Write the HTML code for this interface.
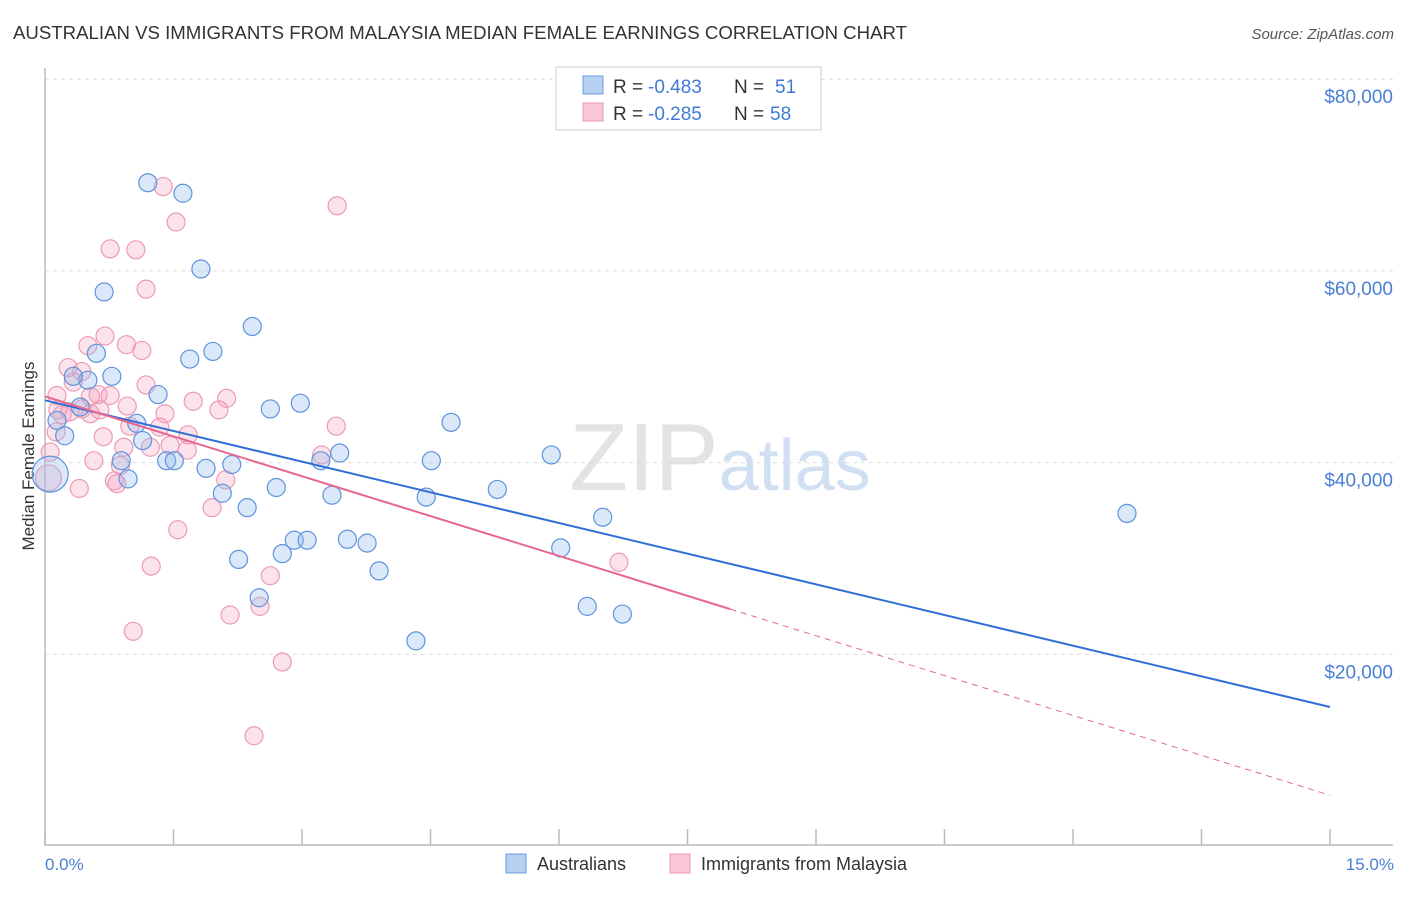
<!DOCTYPE html>
<html><head><meta charset="utf-8"><style>
body{margin:0;background:#fff;font-family:"Liberation Sans",sans-serif}
svg text{font-family:"Liberation Sans",sans-serif}
</style></head><body>
<svg id="chart" width="1406" height="892" viewBox="0 0 1406 892" xmlns="http://www.w3.org/2000/svg">
<text x="13" y="39" font-size="18" fill="#333" textLength="894" lengthAdjust="spacingAndGlyphs">AUSTRALIAN VS IMMIGRANTS FROM MALAYSIA MEDIAN FEMALE EARNINGS CORRELATION CHART</text>
<text x="1394" y="39" font-size="15" fill="#555" text-anchor="end" font-style="italic">Source: ZipAtlas.com</text>
<text x="720" y="490" font-size="96" fill="#ddd" text-anchor="middle" font-family="Liberation Serif" opacity="0.8">ZIP<tspan fill="#c5d8f0" font-family="Liberation Sans" font-size="72">atlas</tspan></text>
<g id="grid"></g>
<line x1="45" y1="68" x2="45" y2="846" stroke="#bbb" stroke-width="1.5"/>
<line x1="45" y1="845" x2="1393" y2="845" stroke="#bbb" stroke-width="1.5"/>
<text transform="translate(34,456) rotate(-90)" font-size="17" fill="#333" text-anchor="middle">Median Female Earnings</text>
<text x="45" y="870" font-size="17" fill="#4a7fd4">0.0%</text>
<text x="1394" y="870" font-size="17" fill="#4a7fd4" text-anchor="end">15.0%</text>
<g id="points"></g>
<g id="lines"></g>
<g>
<rect x="556" y="67" width="265" height="63" fill="#fff" stroke="#ccc"/>
<rect x="583" y="76" width="20" height="18" fill="#b8d1f3" stroke="#6a9be0"/>
<rect x="583" y="103" width="20" height="18" fill="#f9c6d6" stroke="#ec9ab5"/>
<text x="613" y="93" font-size="19" fill="#333">R =</text>
<text x="648" y="93" font-size="19" fill="#3f7ad6">-0.483</text>
<text x="734" y="93" font-size="19" fill="#333">N =</text>
<text x="775" y="93" font-size="19" fill="#3f7ad6">51</text>
<text x="613" y="120" font-size="19" fill="#333">R =</text>
<text x="648" y="120" font-size="19" fill="#3f7ad6">-0.285</text>
<text x="734" y="120" font-size="19" fill="#333">N =</text>
<text x="770" y="120" font-size="19" fill="#3f7ad6">58</text>
</g>
<g>
<rect x="506" y="854" width="20" height="19" fill="#b8d1f3" stroke="#6a9be0"/>
<text x="537" y="870" font-size="18" fill="#333">Australians</text>
<rect x="670" y="854" width="20" height="19" fill="#f9c6d6" stroke="#ec9ab5"/>
<text x="701" y="870" font-size="18" fill="#333">Immigrants from Malaysia</text>
</g>
</svg>
<script>
const yTicks=[20000,40000,60000,80000];
const yTickLabels=["$20,000","$40,000","$60,000","$80,000"];
const xTicks=[0,1.5,3,4.5,6,7.5,9,10.5,12,13.5,15];
const ausX=[1.20,1.61,1.82,0.69,2.42,0.60,1.96,1.69,0.50,0.78,0.33,1.32,0.41,0.14,2.63,2.98,4.74,1.07,0.23,1.14,1.42,1.51,0.89,1.88,2.18,3.44,3.22,4.51,5.91,0.97,2.07,2.70,3.35,4.45,5.28,2.36,6.51,12.63,2.91,3.06,3.53,3.76,2.26,2.77,6.02,3.90,2.50,6.33,6.74,4.33,0.06];
const ausY=[69.2,68.1,60.2,57.8,54.2,51.4,51.6,50.8,48.6,49.0,49.0,47.1,45.8,44.4,45.6,46.2,44.2,44.1,42.8,42.3,40.2,40.2,40.2,39.4,39.8,41.0,40.2,40.2,40.8,38.3,36.8,37.4,36.6,36.4,37.2,35.3,34.3,34.7,31.9,31.9,32.0,31.6,29.9,30.5,31.1,28.7,25.9,25.0,24.2,21.4,38.8];
const ausR=[9,9,9,9,9,9,9,9,9,9,9,9,9,9,9,9,9,9,9,9,9,9,9,9,9,9,9,9,9,9,9,9,9,9,9,9,9,9,9,9,9,9,9,9,9,9,9,9,9,9,18];
const myX=[1.38,3.41,1.53,0.76,1.06,1.18,0.70,0.95,1.13,0.50,0.27,0.43,0.33,1.18,1.73,2.12,2.03,1.40,0.62,0.96,0.43,0.53,0.15,0.20,0.29,0.13,1.34,1.67,0.68,3.40,3.23,0.57,0.88,1.66,1.23,2.11,0.81,0.84,0.40,0.06,0.04,1.95,1.55,1.24,2.63,6.70,2.16,2.51,1.03,2.77,2.44,0.99,0.64,0.76,1.46,0.92,0.53,0.14];
const myY=[68.8,66.8,65.1,62.3,62.2,58.1,53.2,52.3,51.7,52.2,49.9,49.5,48.4,48.1,46.4,46.7,45.5,45.1,47.1,45.9,45.6,45.1,45.5,45.0,45.3,43.2,43.7,42.9,42.7,43.8,40.8,40.2,39.7,41.3,41.6,38.2,38.1,37.8,37.3,41.1,38.4,35.3,33.0,29.2,28.2,29.6,24.1,25.0,22.4,19.2,11.5,43.8,45.5,47.0,41.8,41.6,46.9,47.0];
const ausLine=[46.5,14.5];
const myLine=[46.9,5.3];
const mySolidEnd=8.0;
const NS="http://www.w3.org/2000/svg";
const sx=v=>45+v*(1330-45)/15;
const sy=v=>846-v*191.7/20;
const mk=(t,a)=>{const e=document.createElementNS(NS,t);for(const k in a)e.setAttribute(k,a[k]);return e;};
const grid=document.getElementById('grid');
yTicks.forEach((t,i)=>{
 const l=mk('line',{x1:45,x2:1393,y1:sy(t/1000),y2:sy(t/1000),stroke:'#ddd','stroke-dasharray':'4,4'});
 
 
 grid.appendChild(l);
 const tx=mk('text',{x:1393,y:sy(t/1000)+24,'font-size':19,fill:'#4a7fd4','text-anchor':'end'});
 tx.textContent=yTickLabels[i];
 
 
 grid.appendChild(tx);
});
xTicks.forEach(t=>{
 const l=mk('line',{x1:sx(t),x2:sx(t),y1:829,y2:845,stroke:'#bbb','stroke-width':1.5});
 
 
 grid.appendChild(l);
});
const pts=document.getElementById('points');
myX.forEach((x,i)=>{
 const r=(i==40)?13:9;
 const c=mk('circle',{cx:sx(x),cy:sy(myY[i]),r:r,fill:'rgba(244,160,188,0.3)',stroke:'#ec9ab5','stroke-width':1.2});
 
 
 pts.appendChild(c);
});
ausX.forEach((x,i)=>{
 const c=mk('circle',{cx:sx(x),cy:sy(ausY[i]),r:ausR[i],fill:'rgba(150,188,238,0.35)',stroke:'#5f93dc','stroke-width':1.2});
 
 
 pts.appendChild(c);
});
const ln=document.getElementById('lines');
const myAt=x=>myLine[0]+(myLine[1]-myLine[0])*x/15;
let a=mk('line',{x1:sx(0),y1:sy(ausLine[0]),x2:sx(15),y2:sy(ausLine[1]),stroke:'#2f6fd6','stroke-width':2});


ln.appendChild(a);
let b=mk('line',{x1:sx(0),y1:sy(myLine[0]),x2:sx(mySolidEnd),y2:sy(myAt(mySolidEnd)),stroke:'#e8678f','stroke-width':2});


ln.appendChild(b);
let d=mk('line',{x1:sx(mySolidEnd),y1:sy(myAt(mySolidEnd)),x2:sx(15),y2:sy(myLine[1]),stroke:'#e8678f','stroke-width':1,'stroke-dasharray':'6,5'});


ln.appendChild(d);
</script>
</body></html>
